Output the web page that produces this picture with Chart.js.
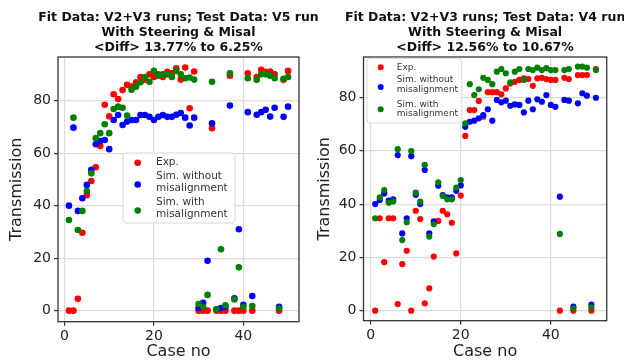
<!DOCTYPE html>
<html><head><meta charset="utf-8">
<script src="https://cdn.jsdelivr.net/npm/chart.js@4.4.1/dist/chart.umd.min.js"></script>
<style>
html,body{margin:0;padding:0;background:#fff;}
#wrap{position:relative;width:624px;height:362px;overflow:hidden;}
.c{position:absolute;top:0;height:362px;}
canvas{display:block;}
</style></head><body>
<div id="wrap">
<div class="c" style="left:0;width:340px;z-index:1"><canvas id="c1" width="340" height="362"></canvas></div>
<div class="c" style="left:312px;width:312px;z-index:2"><canvas id="c2" width="312" height="362"></canvas></div>
</div>
<script>
// ---------- data ----------
const caseNo = [1,2,3,4,5,6,7,8,9,10,11,12,13,14,15,16,17,18,19,20,21,22,23,24,25,26,27,28,29,30,31,32,33,34,35,36,37,38,39,40,41,42,43,44,45,46,47,48,49,50];
const xTickValues = [0,20,40];
const yTickValues = [0,20,40,60,80];
const seriesLabels = ['Exp.', 'Sim. without\nmisalignment', 'Sim. with\nmisalignment'];

const leftTitle = ['Fit Data: V2+V3 runs; Test Data: V5 run','With Steering & Misal','<Diff> 13.77% to 6.25%'];
const leftExp = [0,0,4.5,29.7,44,49.4,54.6,62.7,78.4,74,82.4,80.6,84,86,85.3,87,89,88,90,89,90,89,91,90.4,92.3,88,92.6,77.1,91.1,0,0,0,69.5,0,0,0,89.5,0,0,0,90.4,0,89,91.7,91,91.1,90,0,87.9,91.3];
const leftSimNoMis = [40,69.7,38,42.8,47.9,53.6,63.4,64.6,65,61.5,72.6,74.5,70.7,72,72.6,72.6,74.5,74.5,73.8,72.6,73.8,74.5,73.8,73.8,74.6,75.3,73.5,70.5,73.5,1,3,19,71.4,0.5,1,1.5,78.1,4.7,31,2.2,75.6,5.6,74.6,75.6,76.5,73.9,77.3,1.5,73.8,77.7];
const leftSimMis = [34.5,73.5,30.7,38,45.6,52.3,65.7,67.6,71,67.6,76.8,77.7,77.3,74.3,84.1,85.3,87,89,87.2,91.3,89.5,90,90,89,91.3,90,88.5,88.8,88,2.5,1.5,6,87.2,0.5,23.4,2,90.4,4.3,16.5,1.5,88.5,1.8,87.9,90,90,89.5,88.5,0.8,88.3,89];

const rightTitle = ['Fit Data: V2+V3 runs; Test Data: V4 run','With Steering & Misal','<Diff> 12.56% to 10.67%'];
const rightExp = [0,34.7,18.2,34.7,34.7,2.5,17.5,22.5,0,37.5,34.4,2.8,8.4,20.3,33.7,37.5,36.2,33,21.5,43.2,65.6,75.3,75.3,78.7,72.8,82,82,82,81.2,83.4,85.3,85.9,86.6,87.2,86.9,84.4,87.2,87.4,86.9,86.6,86.6,0,87.4,86.9,0,88.4,88.4,88.4,0,90.7];
const rightSimNoMis = [40,41.5,44,41.3,41.8,58.4,29,34.7,58,43.5,40,52.8,29,33.5,46.9,43.4,42.5,42.5,45,47,69,70.9,71.3,72.2,73.4,75.6,71.3,79.1,78.2,78.8,76.9,77.4,77.2,74.4,78.8,75.6,79.3,78.4,80.9,77.2,76.5,42.8,79.1,78.8,1.5,77.8,81.6,80.7,2.3,79.9];
const rightSimMis = [34.7,42.5,45.3,40.5,41,60.6,26.5,33.2,59.9,44.3,40.9,54.7,27.8,32.5,48.2,43,41.8,41.8,46.2,49,70.3,85,80.9,83.1,87.4,86.6,85,89.7,90.7,89.1,85.7,89.7,90.7,86.6,90.7,90.3,91.2,90.3,91,90.3,90.3,28.8,90.3,90.7,0.8,91.6,91.6,91.2,1.3,90.3];

// ---------- plugins ----------
const framePlugin = {
  id: 'frame',
  afterDatasetsDraw(chart) {
    const {left, top, right, bottom} = chart.chartArea;
    const ctx = chart.ctx;
    ctx.save();
    ctx.strokeStyle = '#333';
    ctx.lineWidth = 1.3;
    ctx.strokeRect(left, top, right - left, bottom - top);
    ctx.restore();
  }
};
const titlePlugin = {
  id: 'centerTitle',
  afterDraw(chart, args, o) {
    const ctx = chart.ctx;
    const cx = (chart.chartArea.left + chart.chartArea.right) / 2;
    ctx.save();
    ctx.fillStyle = '#111';
    ctx.font = 'bold 12.5px "DejaVu Sans"';
    ctx.textAlign = 'center';
    ctx.textBaseline = 'middle';
    o.text.forEach((ln, j) => ctx.fillText(ln, cx, o.y0 + j * o.lineH));
    ctx.restore();
  }
};
const legendPlugin = {
  id: 'boxLegend',
  afterDatasetsDraw(chart, args, o) {
    const ctx = chart.ctx;
    ctx.save();
    const r = 3;
    ctx.beginPath();
    ctx.moveTo(o.x + r, o.y);
    ctx.arcTo(o.x + o.w, o.y, o.x + o.w, o.y + o.h, r);
    ctx.arcTo(o.x + o.w, o.y + o.h, o.x, o.y + o.h, r);
    ctx.arcTo(o.x, o.y + o.h, o.x, o.y, r);
    ctx.arcTo(o.x, o.y, o.x + o.w, o.y, r);
    ctx.closePath();
    ctx.fillStyle = 'rgba(255,255,255,0.85)';
    ctx.fill();
    ctx.strokeStyle = '#d8d8d8';
    ctx.lineWidth = 1;
    ctx.stroke();
    chart.data.datasets.forEach((ds, i) => {
      ctx.fillStyle = ds.backgroundColor;
      ctx.beginPath();
      ctx.arc(o.dotX, o.dotY[i], o.dotR, 0, Math.PI * 2);
      ctx.fill();
      ctx.fillStyle = '#333';
      ctx.font = o.fontSize + 'px "DejaVu Sans"';
      ctx.textBaseline = 'middle';
      ctx.textAlign = 'left';
      ds.label.split('\n').forEach((ln, j) => ctx.fillText(ln, o.textX, o.textY[i][j]));
    });
    ctx.restore();
  }
};

function build(id, title, exp, noMis, mis, g) {
  const colors = ['#ff0000', '#0000ff', '#008000'];
  const series = [exp, noMis, mis];
  return new Chart(document.getElementById(id), {
    type: 'scatter',
    data: {
      datasets: series.map((vals, k) => ({
        label: seriesLabels[k],
        data: caseNo.map((c, i) => ({x: c, y: vals[i]})),
        backgroundColor: colors[k],
        borderWidth: 0,
        pointRadius: g.r,
        pointBorderWidth: 0,
        order: 3 - k
      }))
    },
    options: {
      responsive: false, animation: false, devicePixelRatio: 1,
      layout: {padding: {left: 0, right: g.padR, top: 57, bottom: 0}},
      plugins: {
        legend: {display: false},
        tooltip: {enabled: false},
        title: {display: false},
        centerTitle: {text: title, y0: 17.5, lineH: 15},
        boxLegend: g.legend
      },
      scales: {
        x: {
          type: 'linear', min: g.xMin, max: g.xMax,
          afterBuildTicks: s => { s.ticks = xTickValues.map(v => ({value: v})); },
          afterFit: s => { s.height = g.xH; },
          ticks: {font: {family: 'DejaVu Sans', size: 14}, color: '#222', padding: 2},
          grid: {color: '#dcdcdc', lineWidth: 1.2, tickLength: 4, tickColor: '#333'},
          border: {display: false},
          title: {display: true, text: 'Case no', color: '#222',
            font: {family: 'DejaVu Sans', size: 16}, padding: {top: 0, bottom: 0.5}}
        },
        y: {
          type: 'linear', min: g.yMin, max: g.yMax,
          afterBuildTicks: s => { s.ticks = yTickValues.map(v => ({value: v})); },
          afterFit: s => { s.width = g.yW; },
          ticks: {font: {family: 'DejaVu Sans', size: 14}, color: '#222', padding: 3},
          grid: {color: '#dcdcdc', lineWidth: 1.2, tickLength: 4, tickColor: '#333'},
          border: {display: false},
          title: {display: true, text: 'Transmission', color: '#222',
            font: {family: 'DejaVu Sans', size: 16}, padding: {top: g.yTitlePad, bottom: 0}}
        }
      }
    },
    plugins: [framePlugin, legendPlugin, titlePlugin]
  });
}

build('c1', leftTitle, leftExp, leftSimNoMis, leftSimMis, {
  r: 3.3, padR: 41, xMin: -1.45, xMax: 52.45, yMin: -4.2, yMax: 96.6, xH: 40.3, yW: 58, yTitlePad: 7.4,
  legend: {x: 123, y: 153, w: 112, h: 70, dotX: 137.7, dotR: 3.3, fontSize: 10.5, textX: 156,
    dotY: [162.7, 184.5, 210.5], textY: [[162.7], [176.7, 188.2], [202.3, 213.8]]}
});
build('c2', rightTitle, rightExp, rightSimNoMis, rightSimMis, {
  r: 3.1, padR: 17.3, xMin: -1.6, xMax: 52.4, yMin: -3.75, yMax: 95.2, xH: 41.3, yW: 51.5, yTitlePad: 3.4,
  legend: {x: 55, y: 58.3, w: 94.7, h: 64.7, dotX: 68.7, dotR: 3, fontSize: 9, textX: 84.7,
    dotY: [67.3, 87, 109.3], textY: [[67.3], [80, 89.5], [104.2, 114]]}
});
</script>
</body></html>
